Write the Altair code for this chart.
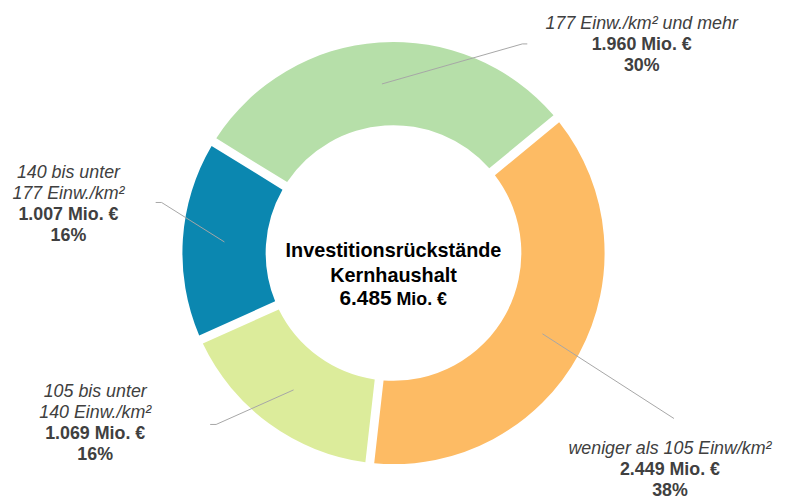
import math
import altair as alt
import pandas as pd

# ---- data ----
categories = ["weniger als 105 Einw/km²", "105 bis unter 140 Einw./km²",
              "140 bis unter 177 Einw./km²", "177 Einw./km² und mehr"]
label_lines = [["weniger als 105 Einw/km²"], ["105 bis unter", "140 Einw./km²"],
               ["140 bis unter", "177 Einw./km²"], ["177 Einw./km² und mehr"]]
values = [2.449, 1.069, 1.007, 1.960]          # Mio. €
colors = ["#FDBB64", "#DCEC9B", "#0B87B0", "#B6DFA9"]
center_title = ["Investitionsrückstände", "Kernhaushalt"]

# ---- layout ----
W, H = 778, 493
CX, CY = 389, 245
R_OUT, R_IN = 213, 129
START = math.radians(50.5)
TXT = "#404040"
FONT = "Liberation Sans"

total = sum(values)
pcts = [round(v / total * 100) for v in values]

def fmt(v):
    return f"{v:.3f}" + " Mio. €"

arc_df = pd.DataFrame({"cat": categories, "value": values, "ord": range(len(values))})

donut = alt.Chart(arc_df).mark_arc(
    innerRadius=R_IN, outerRadius=R_OUT, padAngle=0.036
).encode(
    theta=alt.Theta("value:Q", stack=True,
                    scale=alt.Scale(range=[START, START + 2 * math.pi])),
    order=alt.Order("ord:Q"),
    color=alt.Color("cat:N", scale=alt.Scale(domain=categories, range=colors), legend=None),
    x=alt.value(CX), y=alt.value(CY),
)

# label anchors (x center, first baseline) and leader-line elbows per slice
label_pos = [(668, 448), (88, 390), (61, 169), (639.5, 19)]
line_ends = [[(672, 412)], [(210, 418), (204, 418)], [(155, 194), (149, 194)],
             [(519, 34), (524, 34)]]
LINE_H = 21.3

# leader lines from slice mid-angle
rows = []
cum = 0.0
for i, v in enumerate(values):
    mid = START + (cum + v / 2) / total * 2 * math.pi
    cum += v
    r = (R_IN + R_OUT) / 2
    pts = [(CX + r * math.sin(mid), CY - r * math.cos(mid))] + line_ends[i]
    for k, (x, y) in enumerate(pts):
        rows.append({"cat": categories[i], "k": k, "x": x, "y": y})
lines_df = pd.DataFrame(rows)
leaders = alt.Chart(lines_df).mark_line(color="#A6A6A6", strokeWidth=1).encode(
    x=alt.X("x:Q", scale=None), y=alt.Y("y:Q", scale=None),
    detail="cat:N", order="k:Q")

# labels
trows = []
for i in range(len(values)):
    x0, y0 = label_pos[i]
    ls = label_lines[i]
    for j, t in enumerate(ls):
        trows.append({"x": x0, "y": y0 + j * LINE_H, "t": t, "s": "it"})
    n = len(ls)
    trows.append({"x": x0, "y": y0 + n * LINE_H, "t": fmt(values[i]), "s": "b"})
    trows.append({"x": x0, "y": y0 + (n + 1) * LINE_H, "t": f"{pcts[i]}%", "s": "b"})
text_df = pd.DataFrame(trows)

base_t = alt.Chart(text_df).encode(
    x=alt.X("x:Q", scale=None), y=alt.Y("y:Q", scale=None), text="t:N")
it_text = base_t.mark_text(font=FONT, fontSize=18, fontStyle="italic", color=TXT,
                           align="center", baseline="alphabetic").transform_filter(
    alt.datum.s == "it")
b_text = base_t.mark_text(font=FONT, fontSize=18, fontWeight="bold", color=TXT,
                          align="center", baseline="alphabetic").transform_filter(
    alt.datum.s == "b")

# center text
c_df = pd.DataFrame({"x": [CX, CX], "y": [249, 274], "t": center_title})
c_text = alt.Chart(c_df).mark_text(font=FONT, fontSize=20, fontWeight="bold",
                                   color="#000000", align="center",
                                   baseline="alphabetic").encode(
    x=alt.X("x:Q", scale=None), y=alt.Y("y:Q", scale=None), text="t:N")
tot_df = pd.DataFrame({"x": [387], "y": [297], "t": [f"{total:.3f}"]})
tot_text = alt.Chart(tot_df).mark_text(font=FONT, fontSize=21, fontWeight="bold",
                                       color="#000000", align="right",
                                       baseline="alphabetic").encode(
    x=alt.X("x:Q", scale=None), y=alt.Y("y:Q", scale=None), text="t:N")
unit_df = pd.DataFrame({"x": [392], "y": [297], "t": ["Mio. €"]})
unit_text = alt.Chart(unit_df).mark_text(font=FONT, fontSize=18, fontWeight="bold",
                                         color="#000000", align="left",
                                         baseline="alphabetic").encode(
    x=alt.X("x:Q", scale=None), y=alt.Y("y:Q", scale=None), text="t:N")

chart = alt.layer(donut, leaders, it_text, b_text, c_text, tot_text, unit_text).properties(
    width=W, height=H, autosize=alt.AutoSizeParams(type="none"), padding=0,
    background="white",
).configure_view(stroke=None)

chart.save("out.html", embed_options={"renderer": "svg", "actions": False})
